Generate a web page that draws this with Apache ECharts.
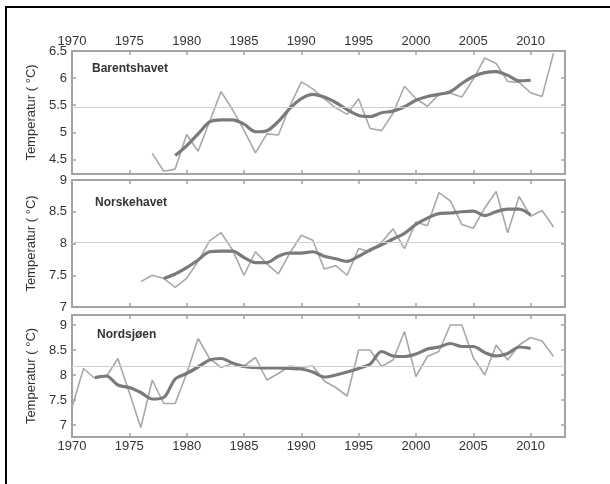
<!DOCTYPE html>
<html>
<head>
<meta charset="utf-8">
<script src="https://cdn.jsdelivr.net/npm/echarts@6/dist/echarts.min.js"></script>
<style>html,body{margin:0;padding:0;background:#fff;}#c{width:610px;height:484px;}</style>
</head>
<body>
<div id="c"></div>
<script>
// ---- data ----
const panelNames = ['Barentshavet', 'Norskehavet', 'Nordsjøen'];
const yLabelText = 'Temperatur ( °C)';
const xTickYears = [1970, 1975, 1980, 1985, 1990, 1995, 2000, 2005, 2010];
const yTicksBarents = [4.5, 5, 5.5, 6, 6.5];
const yTicksNorske = [7, 7.5, 8, 8.5, 9];
const yTicksNordsjo = [7, 7.5, 8, 8.5, 9];
const meanLines = [5.47, 8.02, 8.18];

const barentsAnnualStart = 1977;
const barentsAnnual = [4.61, 4.28, 4.32, 4.96, 4.65, 5.2, 5.75, 5.42, 5.04, 4.62,
  4.97, 4.95, 5.48, 5.93, 5.8, 5.62, 5.45, 5.33, 5.62, 5.07,
  5.03, 5.35, 5.85, 5.62, 5.48, 5.7, 5.72, 5.65, 5.98, 6.37,
  6.27, 5.94, 5.92, 5.73, 5.66, 6.46];
const barentsSmoothStart = 1979;
const barentsSmooth = [4.57, 4.75, 4.97, 5.19, 5.23, 5.23, 5.15, 5.01, 5.03, 5.2,
  5.44, 5.62, 5.7, 5.65, 5.55, 5.42, 5.31, 5.29, 5.36, 5.39,
  5.47, 5.59, 5.66, 5.7, 5.75, 5.9, 6.03, 6.1, 6.12, 6.05,
  5.95, 5.96];

const norskeAnnualStart = 1976;
const norskeAnnual = [7.4, 7.5, 7.45, 7.31, 7.45, 7.72, 8.04, 8.17, 7.9, 7.5,
  7.87, 7.68, 7.52, 7.85, 8.13, 8.05, 7.6, 7.65, 7.5, 7.92,
  7.87, 8.02, 8.23, 7.92, 8.34, 8.28, 8.8, 8.67, 8.3, 8.24,
  8.56, 8.82, 8.17, 8.74, 8.43, 8.52, 8.26];
const norskeSmoothStart = 1978;
const norskeSmooth = [7.45, 7.52, 7.62, 7.74, 7.87, 7.88, 7.88, 7.78, 7.7, 7.7,
  7.8, 7.85, 7.85, 7.87, 7.8, 7.76, 7.72, 7.8, 7.9, 7.98,
  8.07, 8.16, 8.3, 8.4, 8.47, 8.48, 8.5, 8.51, 8.44, 8.5,
  8.54, 8.54, 8.45];

const nordsjoAnnualStart = 1970;
const nordsjoAnnual = [7.35, 8.13, 7.93, 7.97, 8.33, 7.65, 6.95, 7.9, 7.43, 7.43,
  8.03, 8.73, 8.33, 8.15, 8.23, 8.18, 8.35, 7.9, 8.03, 8.18,
  8.15, 8.18, 7.88, 7.75, 7.58, 8.5, 8.5, 8.17, 8.3, 8.87,
  7.97, 8.37, 8.47, 9.0, 9.0, 8.35, 8.0, 8.6, 8.3, 8.6,
  8.75, 8.68, 8.37];
const nordsjoSmoothStart = 1972;
const nordsjoSmooth = [7.95, 7.98, 7.8, 7.75, 7.65, 7.52, 7.55, 7.92, 8.03, 8.16,
  8.3, 8.33, 8.24, 8.17, 8.15, 8.14, 8.14, 8.13, 8.12, 8.06,
  7.96, 8.0, 8.06, 8.13, 8.22, 8.47, 8.38, 8.37, 8.42, 8.52,
  8.56, 8.63, 8.57, 8.57, 8.45, 8.38, 8.43, 8.56, 8.53];

const yRanges = [[4.23, 6.5], [7, 9], [6.76, 9.2]];

// ---- build ----
function pairs(start, vals) { return vals.map((v, i) => [start + i, v]); }
const annualSets = [pairs(barentsAnnualStart, barentsAnnual), pairs(norskeAnnualStart, norskeAnnual), pairs(nordsjoAnnualStart, nordsjoAnnual)];
const smoothSets = [pairs(barentsSmoothStart, barentsSmooth), pairs(norskeSmoothStart, norskeSmooth), pairs(nordsjoSmoothStart, nordsjoSmooth)];
const yTickSets = [yTicksBarents, yTicksNorske, yTicksNordsjo];

const FONT = 'Liberation Sans, Arial, sans-serif';
const BOX = '#a3a3a3';
const grids = [
  { left: 72, top: 51, width: 493, height: 123 },
  { left: 72, top: 180, width: 493, height: 127 },
  { left: 72, top: 315, width: 493, height: 122 }
];

const xAxes = [], yAxes = [], series = [], titles = [];
for (let i = 0; i < 3; i++) {
  ['bottom', 'top'].forEach(pos => {
    const showLab = (pos === 'top' && i === 0) || (pos === 'bottom' && i === 2);
    xAxes.push({
      type: 'value', gridIndex: i, position: pos, min: 1970, max: 2013,
      axisLine: { show: true, onZero: false, lineStyle: { color: BOX, width: 2 } },
      axisTick: { show: true, inside: true, length: 4, customValues: xTickYears, lineStyle: { color: BOX, width: 1.5 } },
      axisLabel: { show: showLab, customValues: xTickYears, margin: 3, color: '#333', fontFamily: FONT, fontSize: 13,
        formatter: v => String(v) },
      splitLine: { show: false }
    });
  });
  ['left', 'right'].forEach(pos => {
    yAxes.push({
      type: 'value', gridIndex: i, position: pos, min: yRanges[i][0], max: yRanges[i][1],
      name: pos === 'left' ? yLabelText : '', nameLocation: 'middle', nameGap: 28, nameRotate: 90,
      nameTextStyle: { color: '#333', fontFamily: FONT, fontSize: 13 },
      axisLine: { show: true, onZero: false, lineStyle: { color: BOX, width: 2 } },
      axisTick: { show: true, inside: true, length: 4, customValues: yTickSets[i], lineStyle: { color: BOX, width: 1.5 } },
      axisLabel: { show: pos === 'left', customValues: yTickSets[i], margin: 5, color: '#333', fontFamily: FONT, fontSize: 13,
        formatter: v => String(v) },
      splitLine: { show: false }
    });
  });
  series.push({
    type: 'line', xAxisIndex: i * 2, yAxisIndex: i * 2, data: annualSets[i],
    showSymbol: false, symbol: 'none', z: 2,
    lineStyle: { color: '#a8a8a8', width: 1.6 },
    markLine: { silent: true, symbol: 'none', label: { show: false },
      lineStyle: { color: '#d0d0d0', width: 1, type: 'solid' }, data: [{ yAxis: meanLines[i] }] }
  });
  series.push({
    type: 'line', xAxisIndex: i * 2, yAxisIndex: i * 2, data: smoothSets[i],
    showSymbol: false, symbol: 'none', smooth: 0.3, z: 3,
    lineStyle: { color: '#7a7a7a', width: 3.2 }
  });
  titles.push({
    text: panelNames[i], left: [87, 90, 92][i], top: [58, 192, 324][i],
    textStyle: { fontFamily: FONT, fontSize: 12, fontWeight: 'bold', color: '#333' }
  });
}

const chart = echarts.init(document.getElementById('c'), null, { renderer: 'canvas' });
chart.setOption({
  animation: false,
  backgroundColor: '#fff',
  title: titles,
  grid: grids,
  xAxis: xAxes,
  yAxis: yAxes,
  series: series,
  graphic: [{
    type: 'rect', shape: { x: 6, y: 7, width: 700, height: 600 },
    style: { fill: 'none', stroke: '#000', lineWidth: 2 }, silent: true, z: 100
  }]
});
</script>
</body>
</html>
